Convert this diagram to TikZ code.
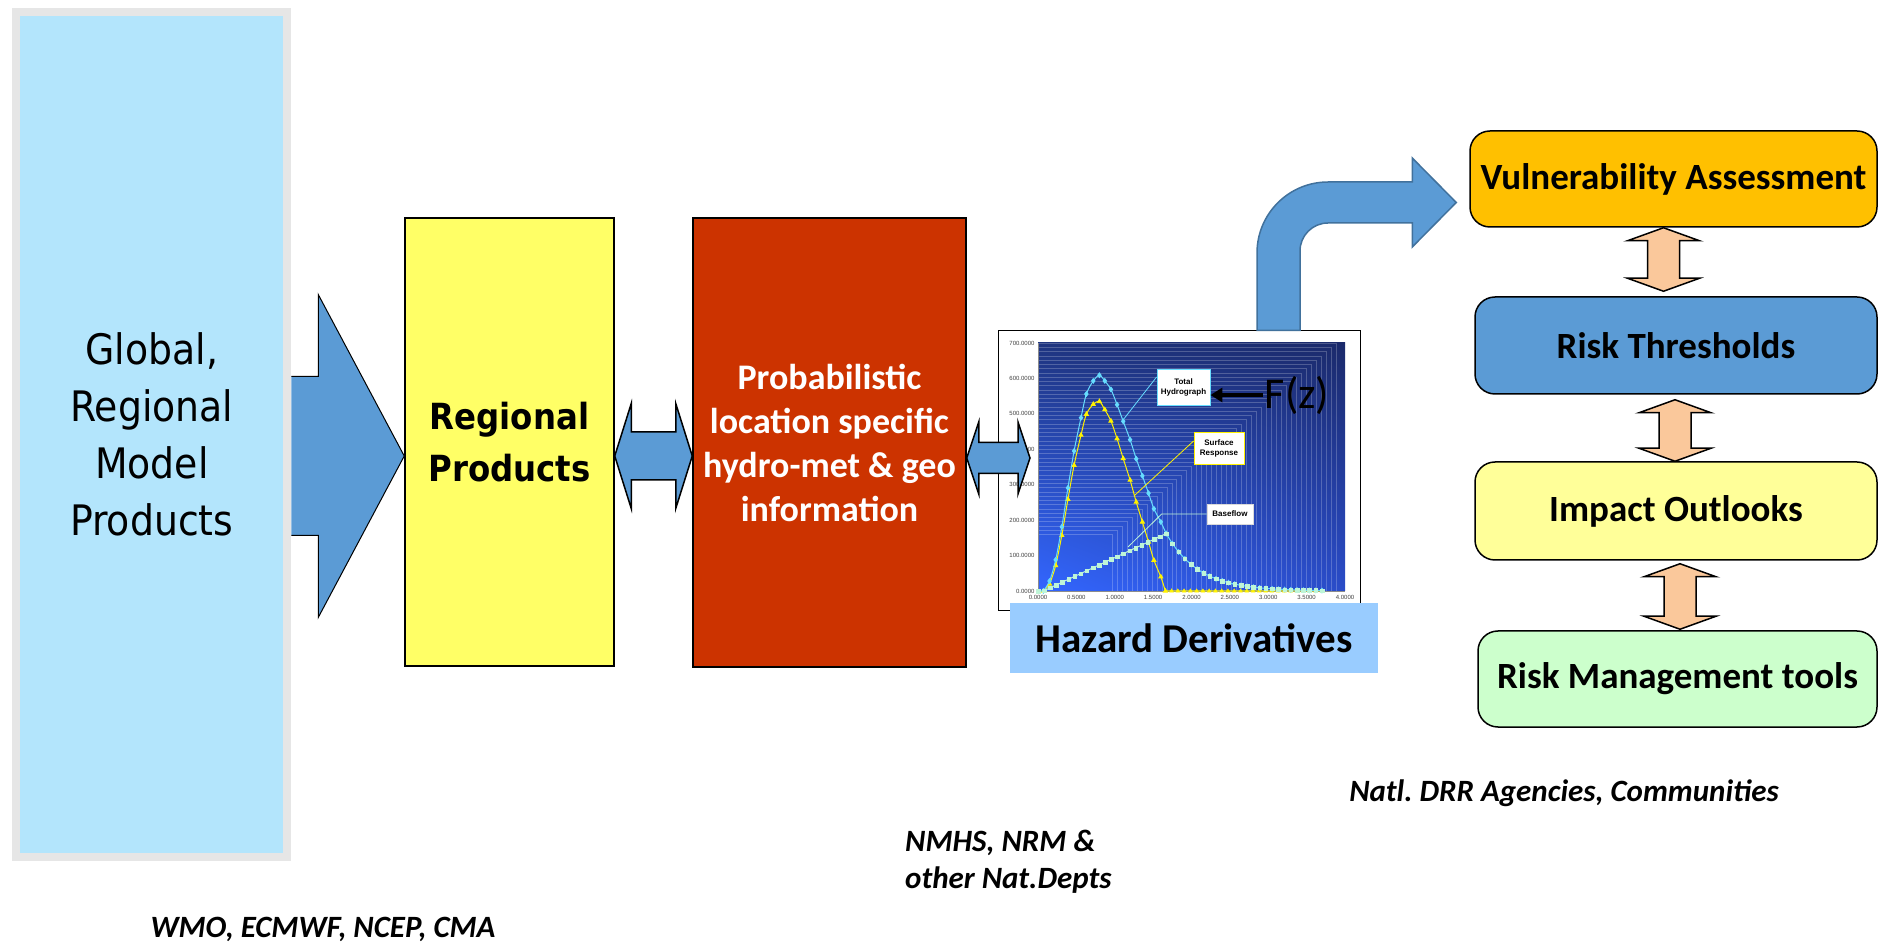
\documentclass[tikz,border=0pt]{standalone}
\usepackage{fontspec}
\setmainfont{Carlito}
\newfontfamily\wideface[FakeStretch=0.9]{DejaVu Sans}
\newfontfamily\chartface{Liberation Sans}
\usetikzlibrary{arrows.meta, calc, plotmarks, shadings}
\frenchspacing

\definecolor{skyblue}{RGB}{179,229,252}
\definecolor{boxgray}{RGB}{230,230,230}
\definecolor{lemon}{RGB}{255,255,102}
\definecolor{rust}{RGB}{204,51,0}
\definecolor{steel}{RGB}{91,155,213}
\definecolor{steeldark}{RGB}{65,113,156}
\definecolor{hazard}{RGB}{153,204,255}
\definecolor{amber}{RGB}{255,192,0}
\definecolor{paleyellow}{RGB}{255,255,153}
\definecolor{palegreen}{RGB}{204,255,204}
\definecolor{peach}{RGB}{250,200,155}
\definecolor{navyA}{RGB}{27,42,107}
\definecolor{navyB}{RGB}{31,53,128}
\definecolor{brightblue}{RGB}{51,102,255}
\definecolor{midblue}{RGB}{42,76,200}
\definecolor{hydro}{RGB}{102,221,255}
\definecolor{flowgreen}{RGB}{190,245,215}

\tikzset{
  stage/.style={draw, line width=1.5pt, inner sep=0pt, align=center},
  outcome/.style={draw, line width=1.5pt, rounded corners=20pt, inner sep=0pt, minimum width=402pt, minimum height=97pt, font=\fontsize{37}{44}\selectfont\bfseries},
  hdbl/.style n args={3}{to path={let \p1=(\tikztostart), \p2=(\tikztotarget) in
      (\x1,\y1) -- (\x1+#3,\y1+#2) -- (\x1+#3,\y1+#1) -- (\x2-#3,\y1+#1) -- (\x2-#3,\y1+#2) -- (\x2,\y1)
      -- (\x2-#3,\y1-#2) -- (\x2-#3,\y1-#1) -- (\x1+#3,\y1-#1) -- (\x1+#3,\y1-#2) -- cycle}},
  vdbl/.style n args={3}{to path={let \p1=(\tikztostart), \p2=(\tikztotarget) in
      (\x1,\y1) -- (\x1+#2,\y1-#3) -- (\x1+#1,\y1-#3) -- (\x1+#1,\y2+#3) -- (\x1+#2,\y2+#3) -- (\x1,\y2)
      -- (\x1-#2,\y2+#3) -- (\x1-#1,\y2+#3) -- (\x1-#1,\y1-#3) -- (\x1-#2,\y1-#3) -- cycle}},
  bluearr/.style={fill=steel, draw=black, line width=1.5pt},
  peacharr/.style={fill=peach, draw=black, line width=1.5pt},
  tag/.style={fill=white, draw, line width=.8pt, inner sep=1pt, align=center, font=\chartface\bfseries\fontsize{8}{10}\selectfont},
  axlab/.style={inner sep=1pt, text=black!75, font=\chartface\fontsize{6}{7}\selectfont},
  who/.style={inner sep=0pt, font=\fontsize{31}{37}\selectfont\bfseries\itshape},
}

\begin{document}
\begin{tikzpicture}[x=1pt, y=1pt]
\useasboundingbox (0,0) rectangle (1880,946);

\node[draw=boxgray, line width=8pt, fill=skyblue, minimum width=271pt, minimum height=845pt, inner sep=0pt, align=center, font=\wideface\fontsize{42}{57}\selectfont] (glob) at (151.75,511.25) {Global,\\Regional\\Model\\Products};
\node[stage, fill=lemon, minimum width=209pt, minimum height=448pt, font=\wideface\bfseries\fontsize{36}{52}\selectfont] (reg) at (509.5,504) {Regional\\Products};
\node[stage, fill=rust, text=white, minimum width=273pt, minimum height=449pt, font=\bfseries\fontsize{36}{44}\selectfont] (prob) at (829.5,503.5) {Probabilistic\\location specific\\hydro-met \& geo\\information};
\coordinate (row1) at (0,490);

\draw[fill=steel, draw=black, line width=1pt] let \p1=(glob.east |- row1), \p2=(reg.west |- row1) in
  (\x1,\y1+79.5pt) -- (\x2-86pt,\y1+79.5pt) -- (\x2-86pt,\y1+161.5pt) -- (\x2,\y1)
  -- (\x2-86pt,\y1-161.5pt) -- (\x2-86pt,\y1-79.5pt) -- (\x1,\y1-79.5pt);
\draw[bluearr, hdbl={24pt}{52.5pt}{16.5pt}] (reg.east |- row1) to (prob.west |- row1);

\node[draw, fill=white, line width=1pt, minimum width=362pt, minimum height=280pt, inner sep=0pt] (chart) at (1179,475) {};
\begin{scope}[shift={(1038,355)}, x=76.75pt, y=0.3543pt]
  \shade[lower left=brightblue, upper left=navyB, upper right=navyA, lower right=midblue] (0,0) rectangle (4,700);
  \foreach \v in {160,172,...,700}
    \draw[white, opacity=.22, line width=.4pt] (0,\v) -| ({0.1+0.0054*\v},0);
  \draw[black!45, line width=.6pt] (0,700) -- (0,0) -- (4,0);
  \foreach \v in {0,100,...,700}
    \node[axlab, anchor=east] at (-0.03,\v) {\v.0000};
  \foreach \t/\s in {0/0.0000,0.5/0.5000,1/1.0000,1.5/1.5000,2/2.0000,2.5/2.5000,3/3.0000,3.5/3.5000,4/4.0000}
    \node[axlab, anchor=north] at (\t,-10) {\s};
  \draw[yellow, line width=1pt] plot[smooth, mark=triangle*, mark size=2.2pt] coordinates {(0.07,0) (0.15,20) (0.23,72) (0.31,157) (0.39,259) (0.47,355) (0.56,440) (0.63,499) (0.72,527) (0.80,535) (0.87,512) (0.95,480) (1.03,430) (1.11,374) (1.20,313) (1.28,251) (1.36,195) (1.44,138) (1.51,87) (1.60,40) (1.66,0)} -- (3.7,0);
  \draw[yellow] plot[only marks, mark=triangle*, mark size=2.2pt, domain=1.74:3.7, samples=25] (\x,0);
  \draw[flowgreen, line width=1pt] (0.07,0) -- (1.67,162);
  \draw[hydro, line width=1pt] plot[smooth, mark=diamond*, mark size=2.2pt] coordinates {(0.07,0) (0.15,28) (0.23,88) (0.31,181) (0.39,291) (0.47,395) (0.56,489) (0.63,556) (0.72,593) (0.80,609) (0.87,593) (0.95,569) (1.03,526) (1.11,479) (1.20,427) (1.28,373) (1.36,325) (1.44,276) (1.51,232) (1.60,195) (1.67,162)}
    -- plot[domain=1.67:3.7, samples=26, mark=diamond*, mark size=2.2pt] (\x,{162*exp(-(\x-1.67)/0.42)});
  \draw[flowgreen] plot[only marks, mark=square*, mark size=1.8pt, domain=0:1.67, samples=22] (\x,{max(0,101*(\x-0.07))});
  \draw[flowgreen] plot[only marks, mark=square*, mark size=1.8pt, domain=1.75:3.7, samples=25] (\x,{162*exp(-(\x-1.67)/0.42)});
\end{scope}

\node[tag, draw=hydro, minimum width=53pt, minimum height=36pt] (totaltag) at (1183.5,559) {Total\\Hydrograph};
\node[tag, draw=yellow, minimum width=50pt, minimum height=32pt] (surftag) at (1219,498) {Surface\\Response};
\node[tag, draw=black!15, minimum width=46pt, minimum height=20pt] (basetag) at (1230,432) {Baseflow};
\coordinate (totalpt) at (1123,526);
\coordinate (surfpt) at (1135,451);
\coordinate (basept) at (1128,399);
\draw[hydro, line width=.8pt] ([yshift=10pt]totaltag.west) -- (totalpt);
\draw[yellow, line width=.8pt] ([yshift=7pt]surftag.west) -- (surfpt);
\draw[flowgreen, line width=.8pt] (basetag.west) -- ++(-45,0) -- (basept);
\node[font=\fontsize{44}{50}\selectfont, inner sep=2pt] (fz) at (1297,551) {F(z)};
\draw[-{Triangle[length=12pt,width=14pt]}, line width=3.5pt] (fz.west) -- (fz.west -| totaltag.east);

\coordinate (graphtip) at (1030,488);
\draw[bluearr, hdbl={15.5pt}{36pt}{12pt}] (prob.east |- graphtip) to (graphtip);
\node[fill=hazard, minimum width=368pt, minimum height=70pt, inner sep=0pt, font=\bfseries\fontsize{41}{48}\selectfont] (hazard) at (1194,308) {Hazard Derivatives};

\node[outcome, fill=amber, minimum width=407pt, minimum height=96pt] (vuln) at (1673.5,767) {Vulnerability Assessment};
\node[outcome, fill=steel] (thr) at (1676,600.5) {Risk Thresholds};
\node[outcome, fill=paleyellow, minimum height=98pt] (imp) at (1676,435) {Impact Outlooks};
\node[outcome, fill=palegreen, minimum width=399pt, minimum height=96pt] (mgmt) at (1677.5,267) {Risk Management tools};

\coordinate (bendfoot) at ([xshift=99.5pt]chart.north);
\coordinate (bendtip) at ([xshift=-13pt,yshift=-23.5pt]vuln.west);
\draw[fill=steel, draw=steeldark, line width=1.5pt] let \p1=(bendfoot), \p2=(bendtip) in
  (\x1-21.5pt,\y1) -- (\x1-21.5pt,\y2-50.5pt) arc[start angle=180, end angle=90, radius=71pt]
  -- (\x2-44pt,\y2+20.5pt) -- (\x2-44pt,\y2+44.5pt) -- (\x2,\y2) -- (\x2-44pt,\y2-44.5pt)
  -- (\x2-44pt,\y2-20.5pt) -- (\x1+49.5pt,\y2-20.5pt) arc[start angle=90, end angle=180, radius=28pt]
  -- (\x1+21.5pt,\y1) -- cycle;

\draw[peacharr, vdbl={16pt}{36pt}{13pt}] ([xshift=-10pt]vuln.south) to ([yshift=5pt]thr.north);
\draw[peacharr, vdbl={16pt}{36pt}{13pt}] ([xshift=-1pt,yshift=-5pt]thr.south) to (imp.north);
\draw[peacharr, vdbl={16pt}{36pt}{13pt}] ([xshift=4pt,yshift=-3pt]imp.south) to ([yshift=1pt]mgmt.north);

\node[who] (wmo) at (323,17) {WMO, ECMWF, NCEP, CMA};
\node[who, align=left, anchor=west] (nmhs) at (905,84.5) {NMHS, NRM \&\\other Nat.Depts};
\node[who] (drr) at (1564,153) {Natl. DRR Agencies, Communities};
\end{tikzpicture}
\end{document}
